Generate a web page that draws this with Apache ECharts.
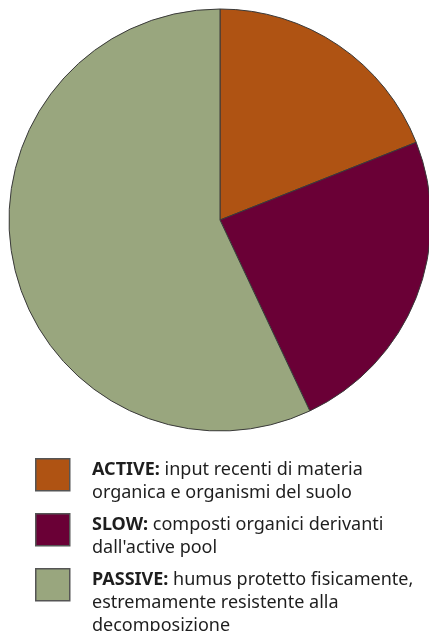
<!DOCTYPE html>
<html>
<head>
<meta charset="utf-8">
<script src="https://cdn.jsdelivr.net/npm/echarts@6/dist/echarts.min.js"></script>
<style>
  html, body { margin: 0; padding: 0; background: #ffffff; }
  #chart { width: 429px; height: 631px; }
</style>
</head>
<body>
<div id="chart"></div>
<script>
// Soil organic matter pools (share of total, %)
const poolNames = ['ACTIVE', 'SLOW', 'PASSIVE'];
const poolShares = [19, 24, 57];
const poolColors = ['#AF5313', '#6A0036', '#99A67E'];
// Legend descriptions, one array entry per text line
const poolDescriptions = [
  ['input recenti di materia', 'organica e organismi del suolo'],
  ['composti organici derivanti', "dall'active pool"],
  ['humus protetto fisicamente,', 'estremamente resistente alla', 'decomposizione']
];

const chart = echarts.init(document.getElementById('chart'), null, { renderer: 'canvas' });

const FONT = '"Noto Sans", "Open Sans", sans-serif';
const legendTops = [458, 513, 568];
const legendGraphics = [];
poolNames.forEach((name, i) => {
  const top = legendTops[i];
  legendGraphics.push({
    type: 'rect',
    left: 35, top: top,
    shape: { width: 34, height: 32 },
    style: { fill: poolColors[i], stroke: '#555', lineWidth: 1.5 }
  });
  const lines = poolDescriptions[i].slice();
  const first = '{b|' + name + ':} {n|' + lines.shift() + '}';
  const rest = lines.map(l => '{n|' + l + '}');
  legendGraphics.push({
    type: 'text',
    left: 92, top: top,
    style: {
      text: [first].concat(rest).join('\n'),
      fill: '#1e1e1e',
      font: '18px ' + FONT,
      lineHeight: 23,
      rich: {
        b: { fontWeight: 'bold', fontSize: 18, fontFamily: FONT, fill: '#1e1e1e', lineHeight: 23 },
        n: { fontSize: 18, fontFamily: FONT, fill: '#1e1e1e', lineHeight: 23 }
      }
    }
  });
});

chart.setOption({
  animation: false,
  backgroundColor: '#ffffff',
  series: [{
    type: 'pie',
    center: [220, 220],
    radius: [0, 211],
    startAngle: 90,
    clockwise: true,
    label: { show: false },
    labelLine: { show: false },
    emphasis: { disabled: true },
    itemStyle: { borderColor: '#3a3a3a', borderWidth: 1 },
    data: poolNames.map((n, i) => ({
      name: n, value: poolShares[i], itemStyle: { color: poolColors[i] }
    }))
  }],
  graphic: legendGraphics
});
</script>
</body>
</html>
